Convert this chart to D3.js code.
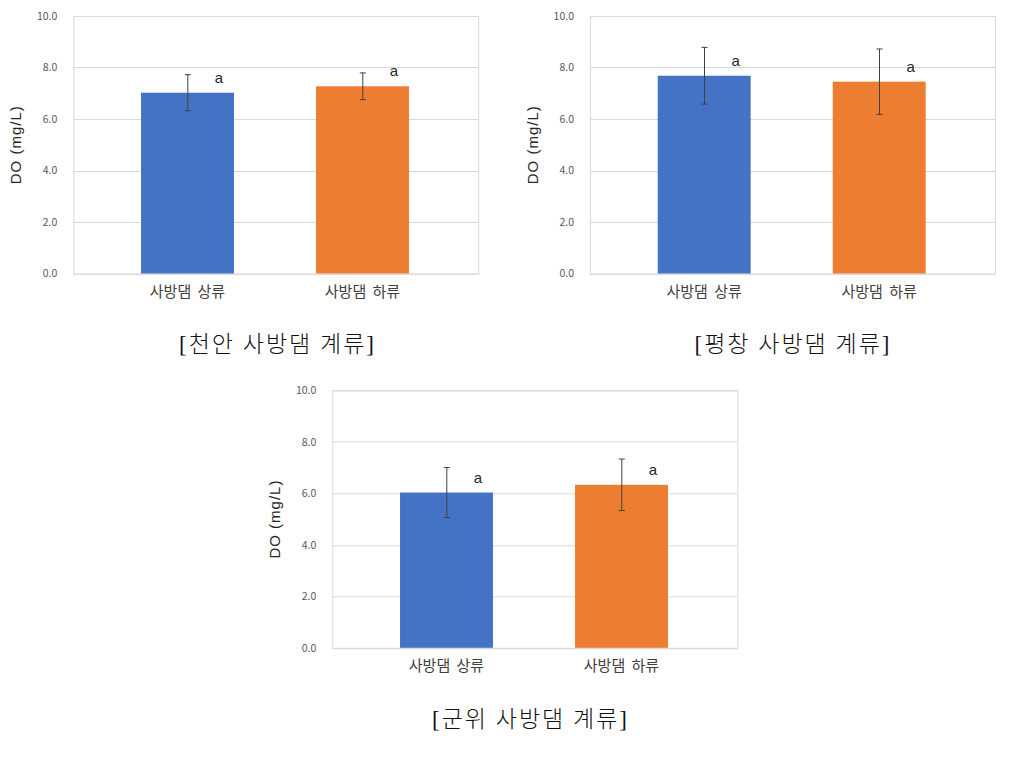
<!DOCTYPE html>
<html>
<head>
<meta charset="utf-8">
<script src="https://cdn.jsdelivr.net/npm/d3@7"></script>
<style>
  html, body { margin: 0; padding: 0; background: #ffffff; }
  svg { display: block; }
</style>
</head>
<body>
<svg id="chart" width="1024" height="764"></svg>
<script>
// ---- data ----
const categories = ["사방댐 상류", "사방댐 하류"];
const yTicks = [0, 2, 4, 6, 8, 10];
const yTitle = "DO (mg/L)";
const panelTitles = ["[천안 사방댐 계류]", "[평창 사방댐 계류]", "[군위 사방댐 계류]"];
const cheonanMean = [7.02, 7.27];
const cheonanErr = [0.70, 0.52];
const cheonanLetters = ["a", "a"];
const pyeongchangMean = [7.68, 7.45];
const pyeongchangErr = [1.10, 1.27];
const pyeongchangLetters = ["a", "a"];
const gunwiMean = [6.03, 6.33];
const gunwiErr = [0.97, 1.00];
const gunwiLetters = ["a", "a"];

// ---- layout ----
const colors = ["#4472C4", "#ED7D31"];
const panels = [
  { mean: cheonanMean, err: cheonanErr, letters: cheonanLetters, title: panelTitles[0],
    x0: 73.3, y0: 16, titleX: 277.5, titleY: 352 },
  { mean: pyeongchangMean, err: pyeongchangErr, letters: pyeongchangLetters, title: panelTitles[1],
    x0: 590, y0: 16, titleX: 793, titleY: 352 },
  { mean: gunwiMean, err: gunwiErr, letters: gunwiLetters, title: panelTitles[2],
    x0: 332.3, y0: 390.3, titleX: 530.5, titleY: 727 }
];
const PW = 405, PH = 257.5;
const svg = d3.select("#chart");
const sansKR = "'Noto Sans CJK KR', 'Noto Sans', sans-serif";

panels.forEach(p => {
  const g = svg.append("g").attr("transform", `translate(${p.x0},${p.y0})`);
  const y = d3.scaleLinear().domain([0, 10]).range([PH, 0]);
  const x = d3.scaleBand().domain(categories).range([26.7, 376.7])
    .paddingInner(0.469).paddingOuter(0.2345);

  // gridlines
  g.append("g").selectAll("line").data(yTicks).join("line")
    .attr("x1", 0).attr("x2", PW)
    .attr("y1", d => Math.round(y(d)) + 0.5).attr("y2", d => Math.round(y(d)) + 0.5)
    .attr("stroke", "#d9d9d9").attr("stroke-width", 1);
  // plot border
  g.append("rect").attr("x", 0.5).attr("y", 0.5).attr("width", PW).attr("height", PH)
    .attr("fill", "none").attr("stroke", "#d9d9d9");

  // y axis labels
  const ya = d3.axisLeft(y).tickValues(yTicks).tickFormat(d3.format(".1f")).tickSize(0).tickPadding(16);
  const yg = g.append("g").call(ya);
  yg.select(".domain").remove();
  yg.selectAll("text").attr("font-family", sansKR).attr("font-size", 10.5).attr("fill", "#595959");

  // x axis labels
  const xa = d3.axisBottom(x).tickSize(0).tickPadding(13);
  const xg = g.append("g").attr("transform", `translate(0,${PH})`).call(xa);
  xg.select(".domain").remove();
  xg.selectAll("text").attr("font-family", sansKR).attr("font-size", 15)
    .attr("word-spacing", 3).attr("fill", "#404040");

  // bars
  g.selectAll("rect.bar").data(p.mean).join("rect").attr("class", "bar")
    .attr("x", (d, i) => x(categories[i]))
    .attr("width", x.bandwidth())
    .attr("y", d => y(d))
    .attr("height", d => PH - y(d))
    .attr("fill", (d, i) => colors[i]);

  // error bars
  const eb = g.append("g").attr("stroke", "#404040").attr("stroke-width", 1);
  p.mean.forEach((m, i) => {
    const cx = Math.round(x(categories[i]) + x.bandwidth() / 2) + 0.5;
    const yt = y(m + p.err[i]), yb = y(m - p.err[i]);
    eb.append("line").attr("x1", cx).attr("x2", cx).attr("y1", yt).attr("y2", yb);
    eb.append("line").attr("x1", cx - 3).attr("x2", cx + 3).attr("y1", yt).attr("y2", yt);
    eb.append("line").attr("x1", cx - 3).attr("x2", cx + 3).attr("y1", yb).attr("y2", yb);
  });

  // letters
  g.selectAll("text.sig").data(p.letters).join("text").attr("class", "sig")
    .attr("x", (d, i) => x(categories[i]) + x.bandwidth() / 2 + 31.5)
    .attr("y", (d, i) => y(p.mean[i]) - 10)
    .attr("text-anchor", "middle")
    .attr("font-family", "'Liberation Sans', Arial, sans-serif")
    .attr("font-size", 15).attr("fill", "#262626")
    .text(d => d);

  // y title
  g.append("text")
    .attr("transform", `translate(-58,${PH / 2}) rotate(-90)`)
    .attr("text-anchor", "middle").attr("dominant-baseline", "central")
    .attr("font-family", "'Liberation Sans', Arial, sans-serif")
    .attr("font-size", 15).attr("fill", "#262626")
    .attr("letter-spacing", 1)
    .text(yTitle);

  // panel title
  svg.append("text")
    .attr("x", p.titleX).attr("y", p.titleY)
    .attr("text-anchor", "middle")
    .attr("font-family", "'Liberation Serif', 'Noto Sans CJK KR', serif")
    .attr("font-weight", 300)
    .attr("font-size", 23).attr("fill", "#111")
    .attr("letter-spacing", 2)
    .text(p.title);
});
</script>
</body>
</html>
